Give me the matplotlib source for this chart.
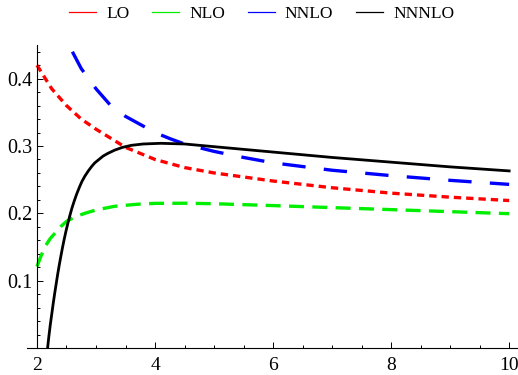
import matplotlib
matplotlib.use('AGG')
import matplotlib.pyplot as plt
from matplotlib.ticker import MultipleLocator

plt.rcParams['font.family'] = 'Liberation Serif'

# curves
x_lo = [2.0, 2.25, 2.5, 2.75, 3.0, 3.5, 4.0, 4.5, 5.0, 6.0, 7.0, 8.0, 9.0, 10.0]
y_lo = [0.42, 0.385, 0.36, 0.34, 0.325, 0.298, 0.28, 0.268, 0.26, 0.248,
        0.238, 0.230, 0.224, 0.219]

x_nlo = [2.0, 2.07, 2.14, 2.22, 2.31, 2.4, 2.5, 2.65, 2.81, 3.0, 3.32, 3.7,
         4.0, 4.5, 5.0, 6.0, 7.0, 8.0, 9.0, 10.0]
y_nlo = [0.121, 0.137, 0.151, 0.162, 0.171, 0.18, 0.188, 0.195, 0.2, 0.205,
         0.2105, 0.2135, 0.2148, 0.215, 0.2143, 0.2115, 0.2085, 0.2055,
         0.2025, 0.1995]

x_nnlo = [2.6, 2.75, 3.0, 3.25, 3.5, 3.75, 4.0, 4.25, 4.5, 5.0, 5.5, 6.0,
          7.0, 8.0, 9.0, 10.0]
y_nnlo = [0.44, 0.415, 0.385, 0.36, 0.344, 0.332, 0.32, 0.311, 0.303, 0.292,
          0.283, 0.275, 0.264, 0.256, 0.249, 0.243]

x_n3lo = [2.16, 2.18, 2.2, 2.225, 2.25, 2.275, 2.3, 2.325, 2.35, 2.375,
          2.4, 2.43, 2.46, 2.49, 2.52, 2.555, 2.59, 2.63, 2.67, 2.72, 2.76,
          2.81, 2.87, 2.93, 2.98, 3.05, 3.12, 3.2, 3.32, 3.45, 3.6, 3.8,
          4.1, 4.5, 5.0, 5.5, 6.0, 7.0, 8.0, 9.0, 10.0]
y_n3lo = [-0.012, 0.0, 0.016, 0.034, 0.05, 0.066, 0.081, 0.095, 0.109,
          0.122, 0.134, 0.148, 0.161, 0.173, 0.184, 0.196, 0.207, 0.218,
          0.228, 0.239, 0.247, 0.255, 0.263, 0.27, 0.275, 0.28, 0.285,
          0.289, 0.294, 0.298, 0.301, 0.303, 0.304, 0.303, 0.299, 0.295,
          0.291, 0.283, 0.276, 0.269, 0.263]

labels = ['LO', 'NLO', 'NNLO', 'NNNLO']
colors = ['#ff0000', '#00ee00', '#0000ff', '#000000']

fig = plt.figure(figsize=(5.18, 3.75), dpi=100)
ax = fig.add_axes([0.052, 0.072, 0.948, 0.808])

ax.plot(x_lo, y_lo, color=colors[0], lw=2.4, dashes=(2.2, 1.5))
ax.plot(x_nlo, y_nlo, color=colors[1], lw=2.4, dashes=(4.5, 2.5))
ax.plot(x_nnlo, y_nnlo, color=colors[2], lw=2.4, dashes=(7, 5.5))
ax.plot(x_n3lo, y_n3lo, color=colors[3], lw=2.0)

ax.set_xlim(1.83, 10.15)
ax.set_ylim(0, 0.45)
ax.spines['top'].set_visible(False)
ax.spines['right'].set_visible(False)
ax.spines['left'].set_position(('data', 2))
for s in ['left', 'bottom']:
    ax.spines[s].set_linewidth(0.8)

ax.xaxis.set_major_locator(MultipleLocator(2))
ax.xaxis.set_minor_locator(MultipleLocator(0.5))
ax.yaxis.set_minor_locator(MultipleLocator(0.02))
ax.set_yticks([0.1, 0.2, 0.3, 0.4])
ax.set_yticklabels(['0.1', '0.2', '0.3', '0.4'])
ax.tick_params(which='both', direction='in', labelsize=14.5, width=0.7)
ax.tick_params(which='major', length=4)
ax.tick_params(which='minor', length=2.5)
ax.tick_params(axis='x', pad=6.5, labelsize=14)
ax.tick_params(axis='y', pad=3)

handles = [plt.Line2D([], [], color=c, lw=0.9) for c in colors]
fig.legend(handles, labels, loc='upper center', ncol=4, frameon=False,
           fontsize=12.5, handlelength=1.55, handletextpad=0.6,
           columnspacing=1.3, bbox_to_anchor=(0.505, 1.025))

plt.savefig('out.png', dpi=100)
plt.close()
